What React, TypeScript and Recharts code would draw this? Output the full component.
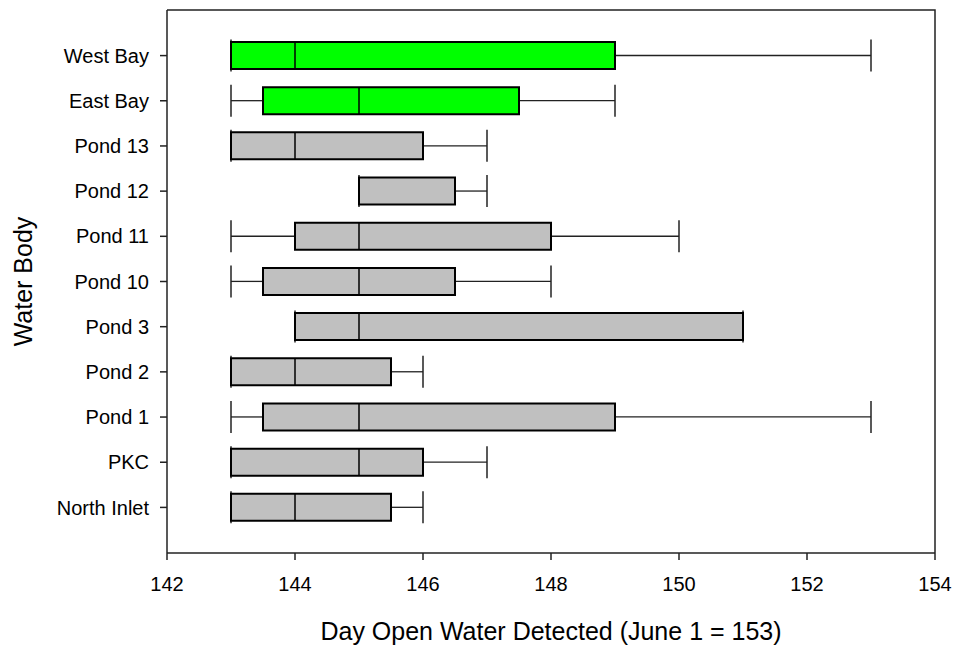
import { ComposedChart, Bar, XAxis, YAxis, usePlotArea } from "recharts";

// one entry per water body, top to bottom
const waterBodies = [
  "West Bay",
  "East Bay",
  "Pond 13",
  "Pond 12",
  "Pond 11",
  "Pond 10",
  "Pond 3",
  "Pond 2",
  "Pond 1",
  "PKC",
  "North Inlet",
];
const whiskerLow = [143, 143, 143, 145, 143, 143, 144, 143, 143, 143, 143];
const quartile1 = [143, 143.5, 143, 145, 144, 143.5, 144, 143, 143.5, 143, 143];
const medians = [144, 145, 144, 145, 145, 145, 145, 144, 145, 145, 144];
const quartile3 = [149, 147.5, 146, 146.5, 148, 146.5, 151, 145.5, 149, 146, 145.5];
const whiskerHigh = [153, 149, 147, 147, 150, 148, 151, 146, 153, 147, 146];
const boxColors = ["#00ff00", "#00ff00", "#c0c0c0", "#c0c0c0", "#c0c0c0", "#c0c0c0", "#c0c0c0", "#c0c0c0", "#c0c0c0", "#c0c0c0", "#c0c0c0"];
const xTicks = [142, 144, 146, 148, 150, 152, 154];

const data = waterBodies.map((name, i) => ({
  name,
  range: [whiskerLow[i], whiskerHigh[i]],
  low: whiskerLow[i],
  q1: quartile1[i],
  median: medians[i],
  q3: quartile3[i],
  high: whiskerHigh[i],
  color: boxColors[i],
}));

const FONT = "'Liberation Sans', Arial, sans-serif";
const CAP = 32;

// draws whiskers + box; bar spans low..high through the x scale,
// inner positions follow the same linear mapping
function BoxShape(props: any) {
  const { x, y, width, height, payload } = props;
  const { low, q1, median, q3, high, color } = payload;
  const px = (v: number) => x + ((v - low) / (high - low)) * width;
  const cy = y + height / 2;
  const xq1 = px(q1);
  const xmed = px(median);
  const xq3 = px(q3);
  const xhi = x + width;
  return (
    <g>
      <line x1={x} x2={xq1} y1={cy} y2={cy} stroke="#222" strokeWidth={1.3} />
      <line x1={xq3} x2={xhi} y1={cy} y2={cy} stroke="#222" strokeWidth={1.3} />
      <line x1={x} x2={x} y1={cy - CAP / 2} y2={cy + CAP / 2} stroke="#222" strokeWidth={1.5} />
      <line x1={xhi} x2={xhi} y1={cy - CAP / 2} y2={cy + CAP / 2} stroke="#222" strokeWidth={1.5} />
      <path
        d={`M${xq1},${y}H${xq3}V${y + height}H${xq1}Z`}
        fill={color}
        stroke="#000"
        strokeWidth={2}
      />
      <line x1={xmed} x2={xmed} y1={y} y2={y + height} stroke="#000" strokeWidth={1.5} />
    </g>
  );
}

// top and right edges of the plot frame
function Frame() {
  const area = usePlotArea();
  if (!area) return null;
  const { x, y, width, height } = area;
  return (
    <path
      d={`M${x},${y}H${x + width}V${y + height}`}
      fill="none"
      stroke="#222"
      strokeWidth={1.5}
    />
  );
}

export default function App() {
  return (
    <div style={{ position: "absolute", left: 0, top: 0, background: "#fff" }}>
      <ComposedChart
        width={955}
        height={645}
        data={data}
        layout="vertical"
        margin={{ top: 10, right: 20, bottom: 0, left: 0 }}
      >
        <XAxis
          type="number"
          dataKey="median"
          domain={[142, 154]}
          ticks={xTicks}
          allowDataOverflow
          height={92}
          tickSize={7}
          tickMargin={17}
          stroke="#222"
          strokeWidth={1.5}
          tick={{ fontSize: 20, fontFamily: FONT, fill: "#000" }}
          label={{
            value: "Day Open Water Detected (June 1 = 153)",
            position: "insideBottom",
            offset: 5,
            style: { fontSize: 25, fontFamily: FONT, fill: "#000" },
          }}
        />
        <YAxis
          type="category"
          dataKey="name"
          width={167}
          padding={{ top: 23, bottom: 23 }}
          tickSize={7}
          tickMargin={11}
          stroke="#222"
          strokeWidth={1.5}
          tick={{ fontSize: 20, fontFamily: FONT, fill: "#000" }}
          label={{
            value: "Water Body",
            angle: -90,
            position: "insideLeft",
            offset: 23,
            style: { fontSize: 25, fontFamily: FONT, fill: "#000", textAnchor: "middle" },
          }}
        />
        <Bar dataKey="range" barSize={27} shape={<BoxShape />} isAnimationActive={false} />
        <Frame />
      </ComposedChart>
    </div>
  );
}
